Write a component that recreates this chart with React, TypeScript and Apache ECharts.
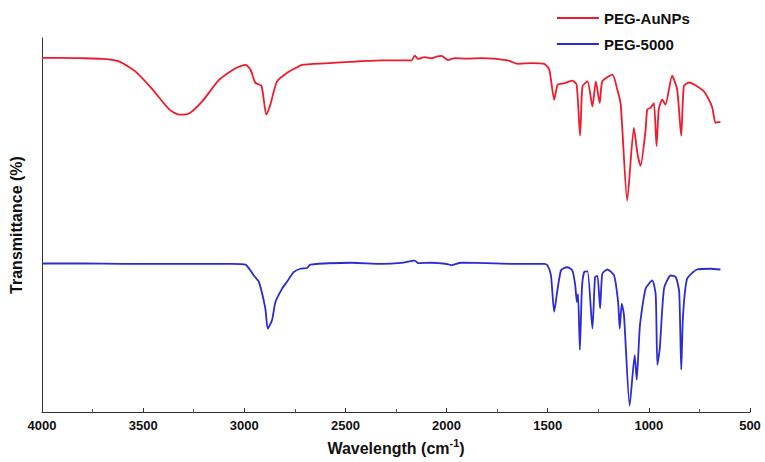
import React, { useEffect, useRef } from "react";
import * as echarts from "echarts";

const xTicks = [4000, 3500, 3000, 2500, 2000, 1500, 1000, 500];

const redWavenumbers = [
  4000, 3900, 3800, 3700, 3617, 3537, 3453, 3371, 3322, 3273, 3207, 3125, 3043, 2993, 2969, 2945, 2915, 2891, 2871, 2838,
  2780, 2748, 2715, 2600, 2450, 2321, 2173, 2157, 2140, 2110, 2075, 2050, 2025, 1993, 1960, 1900, 1829, 1697, 1648, 1583,
  1517, 1492, 1468, 1451, 1419, 1378, 1357, 1340, 1328, 1303, 1279, 1262, 1243, 1230, 1180, 1156, 1139, 1107, 1074, 1057,
  1041, 1016, 1008, 992, 975, 962, 951, 934, 918, 885, 860, 840, 827, 802, 729, 688, 671, 660, 646,
];
const redValues = [
  94.7, 94.7, 94.6, 94.4, 93.7, 91.0, 86.2, 80.9, 79.5, 79.8, 83.1, 88.8, 91.9, 92.8, 91.5, 88.0, 87.2, 79.5, 82.2, 88.4,
  91.0, 91.9, 92.8, 93.2, 93.7, 94.0, 94.0, 95.3, 94.4, 94.9, 94.6, 95.0, 95.2, 94.1, 94.6, 94.5, 94.6, 94.0, 93.1, 93.3,
  93.1, 91.5, 83.5, 87.5, 87.9, 88.6, 87.5, 73.9, 87.1, 88.4, 81.7, 88.4, 82.6, 88.4, 90.2, 86.2, 82.2, 56.5, 76.0, 69.3,
  65.8, 75.5, 80.9, 81.3, 82.6, 71.1, 80.9, 83.5, 82.2, 89.9, 86.2, 73.9, 87.1, 88.1, 85.8, 81.7, 77.3, 77.5, 77.5,
];

const blueWavenumbers = [
  4000, 3800, 3600, 3400, 3200, 3060, 2994, 2969, 2953, 2928, 2896, 2884, 2863, 2846, 2813, 2789, 2756, 2723, 2690, 2674,
  2469, 2321, 2223, 2157, 2140, 2075, 1990, 1976, 1960, 1927, 1800, 1666, 1583, 1517, 1501, 1484, 1468, 1451, 1435, 1419,
  1402, 1378, 1364, 1356, 1350, 1341, 1331, 1320, 1303, 1279, 1266, 1254, 1241, 1230, 1205, 1172, 1152, 1144, 1134, 1123,
  1095, 1070, 1060, 1044, 1016, 983, 966, 958, 946, 925, 892, 867, 850, 840, 831, 811, 762, 696, 646,
];
const blueValues = [
  39.7, 39.7, 39.6, 39.6, 39.6, 39.6, 39.4, 37.8, 36.5, 34.8, 27.7, 22.3, 24.5, 29.4, 33.0, 34.8, 37.4, 38.3, 38.5, 39.4,
  39.9, 39.6, 39.9, 40.5, 39.8, 39.9, 39.5, 39.2, 39.5, 39.9, 39.8, 39.6, 39.6, 39.6, 39.2, 36.5, 26.8, 33.0, 37.8, 38.5,
  38.7, 37.8, 33.9, 29.4, 31.5, 16.6, 33.0, 37.4, 37.6, 22.3, 36.1, 36.4, 27.7, 37.0, 38.1, 36.5, 29.4, 22.3, 29.0, 25.9,
  1.7, 15.2, 8.6, 23.2, 33.0, 35.2, 31.2, 12.6, 17.0, 33.0, 36.5, 36.1, 32.1, 11.3, 25.9, 35.6, 38.1, 38.3, 38.1,
];

const seriesNames = ["PEG-AuNPs", "PEG-5000"];
const seriesColors = ["#f01a2c", "#2b2bd4"];

const FONT = "'Liberation Sans', Arial, sans-serif";

export default function App() {
  const ref = useRef<HTMLDivElement>(null);
  useEffect(() => {
    if (!ref.current) return;
    const chart = echarts.init(ref.current, null, { renderer: "svg" });
    const red = redWavenumbers.map((w, i) => [w, redValues[i]]);
    const blue = blueWavenumbers.map((w, i) => [w, blueValues[i]]);
    chart.setOption({
      animation: false,
      backgroundColor: "#ffffff",
      grid: { left: 39, right: 15, top: 38, bottom: 48, containLabel: false },
      legend: {
        orient: "vertical",
        left: 551,
        top: 5,
        itemWidth: 42,
        itemHeight: 16,
        itemGap: 10,
        data: seriesNames,
        itemStyle: { opacity: 0 },
        lineStyle: { width: 1.8 },
        textStyle: { fontFamily: FONT, fontWeight: "bold", fontSize: 15, lineHeight: 16, color: "#111", padding: [0, 0, 0, 0] },
      },
      xAxis: {
        type: "value",
        inverse: true,
        min: 500,
        max: 4000,
        interval: 500,
        axisLine: { show: true, lineStyle: { color: "#333", width: 1 } },
        axisTick: { show: true, inside: true, length: 4, lineStyle: { color: "#333" } },
        minorTick: { show: true, splitNumber: 2, length: 3, lineStyle: { color: "#555" } },
        splitLine: { show: false },
        axisLabel: {
          margin: 7,
          fontFamily: FONT,
          fontWeight: "bold",
          fontSize: 13,
          color: "#111",
          formatter: (v: number) => (xTicks.includes(v) ? String(v) : ""),
        },
        name: "{a|Wavelength (cm}{s|-1}{a|)}",
        nameLocation: "middle",
        nameGap: 25,
        nameTextStyle: {
          rich: {
            a: { fontFamily: FONT, fontWeight: "bold", fontSize: 16, color: "#111", verticalAlign: "bottom", lineHeight: 19 },
            s: { fontFamily: FONT, fontWeight: "bold", fontSize: 11, color: "#111", verticalAlign: "top", lineHeight: 19, padding: [0, 0, 9, 0] },
          },
        },
      },
      yAxis: {
        type: "value",
        min: 0,
        max: 100,
        axisLine: { show: true, lineStyle: { color: "#333", width: 1 } },
        axisTick: { show: false },
        axisLabel: { show: false },
        splitLine: { show: false },
        name: "Transmittance (%)",
        nameLocation: "middle",
        nameGap: 18,
        nameTextStyle: { fontFamily: FONT, fontWeight: "bold", fontSize: 16, color: "#111" },
      },
      series: [
        {
          name: seriesNames[0],
          type: "line",
          data: red,
          symbol: "none",
          smooth: 0.2,
          lineStyle: { color: seriesColors[0], width: 1.8 },
          itemStyle: { color: seriesColors[0] },
        },
        {
          name: seriesNames[1],
          type: "line",
          data: blue,
          symbol: "none",
          smooth: 0.2,
          lineStyle: { color: seriesColors[1], width: 1.8 },
          itemStyle: { color: seriesColors[1] },
        },
      ],
    });
    return () => chart.dispose();
  }, []);
  return <div ref={ref} style={{ position: "fixed", left: 0, top: 0, width: 765, height: 462 }} />;
}
